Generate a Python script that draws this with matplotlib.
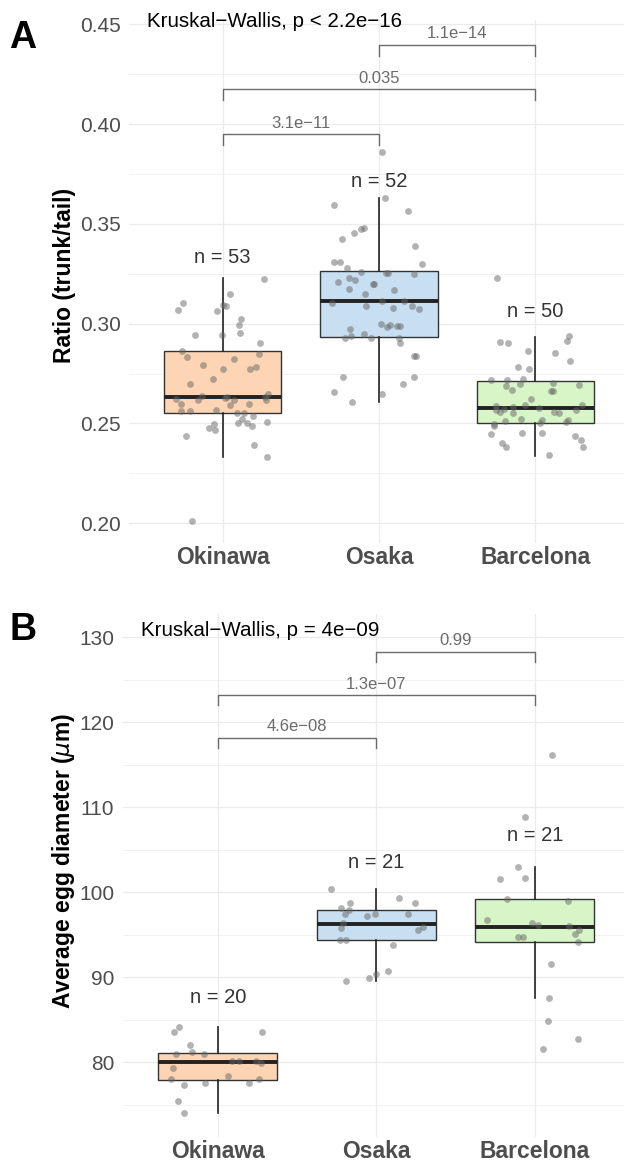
import matplotlib
matplotlib.use('Agg')
import matplotlib.pyplot as plt
from matplotlib.ticker import MultipleLocator, FormatStrFormatter

plt.rcParams['font.family'] = ['Liberation Sans', 'DejaVu Sans']

groups = ['Okinawa', 'Osaka', 'Barcelona']
box_colors = ['#FDD5B4', '#C7DFF1', '#D8F5C8']

# ---- panel A: trunk/tail ratio ----
ratio_okinawa = [0.3226, 0.3149, 0.3102, 0.3067, 0.3065, 0.3094, 0.3089, 0.3022, 0.2995, 0.2952,
                 0.2945, 0.2944, 0.2905, 0.2862, 0.2835, 0.2847, 0.2822, 0.2795, 0.2783, 0.2773,
                 0.2772, 0.2725, 0.2700, 0.2640, 0.2625, 0.2620, 0.2626, 0.2618, 0.2635, 0.2648,
                 0.2618, 0.2598, 0.2591, 0.2596, 0.2561, 0.2561, 0.2569, 0.2554, 0.2551, 0.2538,
                 0.2504, 0.2523, 0.2504, 0.2488, 0.2508, 0.2496, 0.2478, 0.2469, 0.2438, 0.2392,
                 0.2332, 0.2013, 0.2634]
jit_okinawa = [0.264, 0.047, -0.252, -0.286, -0.038, 0.002, 0.019, 0.117, 0.104, 0.111,
               -0.175, -0.004, 0.237, -0.260, -0.226, 0.230, 0.072, -0.126, 0.213, 0.173,
               0.000, -0.064, -0.211, -0.130, -0.299, -0.160, 0.013, 0.070, 0.269, 0.292,
               0.277, -0.269, 0.045, 0.168, -0.264, -0.207, -0.041, 0.090, 0.136, 0.196,
               0.100, 0.122, 0.154, 0.188, 0.281, -0.058, -0.090, -0.047, -0.232, 0.198,
               0.281, -0.194, 0.030]
ratio_osaka = [0.3860, 0.3632, 0.3596, 0.3566, 0.3480, 0.3476, 0.3456, 0.3426, 0.3391, 0.3311,
               0.3311, 0.3297, 0.3281, 0.3261, 0.3252, 0.3256, 0.3251, 0.3229, 0.3219, 0.3210,
               0.3197, 0.3175, 0.3167, 0.3150, 0.3102, 0.3112, 0.3112, 0.3090, 0.3080, 0.3087,
               0.3075, 0.2997, 0.2985, 0.2988, 0.2988, 0.2971, 0.2950, 0.2940, 0.2928, 0.2930,
               0.2930, 0.2903, 0.2838, 0.2838, 0.2733, 0.2733, 0.2700, 0.2656, 0.2648, 0.2609,
               0.3198, 0.2995]
jit_osaka = [0.019, 0.041, -0.290, 0.188, -0.098, -0.115, -0.160, -0.237, 0.232, -0.290,
             -0.249, 0.273, -0.205, -0.113, 0.047, 0.055, 0.222, -0.192, -0.155, -0.262,
             -0.038, -0.190, 0.098, -0.087, -0.299, 0.021, 0.162, -0.081, 0.090, 0.211,
             0.256, 0.013, 0.049, 0.115, 0.132, -0.183, -0.098, -0.177, -0.220, -0.049,
             0.126, 0.132, 0.222, 0.239, -0.230, 0.222, 0.155, -0.285, 0.020, -0.173,
             -0.030, 0.070]
ratio_barcelona = [0.2940, 0.2915, 0.2910, 0.2903, 0.2861, 0.2855, 0.2815, 0.2781, 0.2774, 0.2718,
                   0.2718, 0.2721, 0.2701, 0.2690, 0.2691, 0.2666, 0.2661, 0.2624, 0.2593, 0.2589,
                   0.2581, 0.2579, 0.2593, 0.2566, 0.2559, 0.2554, 0.2557, 0.2551, 0.2569, 0.2521,
                   0.2517, 0.2519, 0.2512, 0.2502, 0.2499, 0.2489, 0.2449, 0.2452, 0.2454, 0.2435,
                   0.2419, 0.2402, 0.2384, 0.2380, 0.2340, 0.3231, 0.2575, 0.2662, 0.2505, 0.2700]
jit_barcelona = [0.218, 0.201, -0.225, -0.174, -0.044, 0.127, 0.223, -0.108, -0.042, -0.281,
                 -0.178, -0.076, 0.116, -0.189, 0.280, -0.148, 0.112, -0.029, -0.063, -0.250,
                 -0.142, 0.022, 0.299, -0.250, -0.225, -0.144, 0.122, 0.154, 0.259, -0.091,
                 0.044, 0.208, -0.191, 0.031, -0.263, -0.266, -0.281, -0.086, 0.044, 0.254,
                 0.295, -0.214, -0.189, 0.304, 0.090, -0.242, -0.200, 0.100, 0.200, -0.100]
# whislo, q1, median, q3, whishi
ratio_box = [(0.2334, 0.2554, 0.2634, 0.2863, 0.3231),
             (0.2609, 0.2935, 0.3115, 0.3266, 0.3628),
             (0.2339, 0.2504, 0.2579, 0.2713, 0.2935)]
ratio_n = ['n = 53', 'n = 52', 'n = 50']
ratio_n_y = [0.3304, 0.3686, 0.3035]
ratio_brackets = [(1, 2, 0.3950, '3.1e\u221211'),
                  (1, 3, 0.4174, '0.035'),
                  (2, 3, 0.4397, '1.1e\u221214')]
ratio_kw = 'Kruskal\u2212Wallis, p < 2.2e\u221216'

# ---- panel B: egg diameter ----
egg_okinawa = [84.19, 83.57, 83.57, 82.0, 81.17, 80.98, 81.02, 80.19, 80.19, 80.19,
               79.96, 79.29, 78.39, 78.0, 78.0, 77.37, 77.6, 77.6, 75.41, 74.0]
jit_egg_okinawa = [-0.244, -0.273, 0.278, -0.175, -0.162, -0.261, -0.086, 0.088, 0.137, 0.242,
                   0.273, -0.280, 0.063, -0.297, 0.259, -0.212, -0.082, 0.196, -0.252, -0.212]
egg_osaka = [100.35, 99.37, 98.74, 98.74, 98.2, 97.88, 97.49, 97.49, 97.49, 97.18,
             96.43, 95.76, 95.92, 95.57, 94.35, 94.35, 93.76, 90.78, 90.35, 89.96, 89.57]
jit_egg_osaka = [-0.286, 0.143, 0.242, -0.164, -0.223, -0.170, -0.200, -0.011, 0.202, -0.061,
                 -0.210, -0.221, 0.294, 0.265, -0.229, -0.189, 0.103, 0.072, -0.002, -0.048, -0.189]
egg_barcelona = [108.89, 102.93, 101.56, 101.68, 99.17, 98.93, 96.74, 96.42, 96.19, 95.99,
                 95.56, 95.09, 94.78, 94.78, 94.15, 91.56, 87.56, 84.9, 81.56, 82.74, 116.15]
jit_egg_barcelona = [-0.059, -0.107, -0.219, -0.061, -0.177, 0.208, -0.299, -0.015, 0.021, 0.217,
                     0.280, 0.254, -0.107, -0.076, 0.273, 0.103, 0.088, 0.085, 0.053, 0.274, 0.110]
egg_box = [(74.0, 77.92, 80.07, 81.06, 84.1),
           (89.6, 94.39, 96.27, 97.92, 100.35),
           (87.53, 94.15, 95.95, 99.18, 103.0)]
egg_n = ['n = 20', 'n = 21', 'n = 21']
egg_n_y = [86.94, 102.82, 106.07]
egg_brackets = [(1, 2, 118.2, '4.6e\u221208'),
                (1, 3, 123.2, '1.3e\u221207'),
                (2, 3, 128.3, '0.99')]
egg_kw = 'Kruskal\u2212Wallis, p = 4e\u221209'


def draw_panel(ax, values, jitters, box, n_text, n_y, brackets, kw, kw_y,
               ylim, major, ylabel, ylabel_x, ylabel_y, tip):
    ax.set_xlim(0.4, 3.6)
    ax.set_ylim(*ylim)
    ax.yaxis.set_major_locator(MultipleLocator(major))
    ax.yaxis.set_minor_locator(MultipleLocator(major / 2))
    ax.grid(True, which='major', color='#EBEBEB', lw=0.9)
    ax.grid(True, which='minor', axis='y', color='#EBEBEB', lw=0.5)
    ax.set_axisbelow(True)
    for s in ax.spines.values():
        s.set_visible(False)

    stats = [dict(whislo=b[0], q1=b[1], med=b[2], q3=b[3], whishi=b[4], fliers=[]) for b in box]
    bp = ax.bxp(stats, positions=[1, 2, 3], widths=0.75, patch_artist=True,
                showfliers=False, showcaps=False,
                boxprops=dict(edgecolor='#333333', lw=1.0),
                whiskerprops=dict(color='#222222', lw=1.2),
                medianprops=dict(color='#222222', lw=2.8, solid_capstyle='butt'))
    for patch, c in zip(bp['boxes'], box_colors):
        patch.set_facecolor(c)
        patch.set_zorder(2)

    for i, (v, j) in enumerate(zip(values, jitters)):
        xs = [i + 1 + d for d in j]
        ax.scatter(xs, v, s=24, color='#666666', alpha=0.5, lw=0, zorder=3)

    for i, (t, y) in enumerate(zip(n_text, n_y)):
        ax.text(i + 1, y, t, ha='center', va='baseline', fontsize=14.5, color='#333333')

    for a, b, y, lab in brackets:
        ax.plot([a, a, b, b], [y - tip, y, y, y - tip], color='#6b6b6b', lw=1.0,
                clip_on=False, zorder=4)
        ax.annotate(lab, ((a + b) / 2, y), xytext=(0, 2.5), textcoords='offset points',
                    ha='center', va='bottom', fontsize=12, color='#6b6b6b')

    ax.text(0.516, kw_y, kw, ha='left', va='baseline', fontsize=14.8, color='black')

    ax.set_xticks([1, 2, 3])
    ax.set_xticklabels(groups, fontsize=16.5, fontweight='bold', color='#4D4D4D')
    ax.tick_params(axis='both', which='both', length=0)
    ax.tick_params(axis='x', pad=2)
    ax.tick_params(axis='y', labelsize=15, labelcolor='#4D4D4D', pad=6)
    ax.set_ylabel(ylabel, fontsize=16.5, fontweight='bold', color='black')
    ax.yaxis.label.set(ha='center', va='center')
    ax.yaxis.set_label_coords(ylabel_x, ylabel_y)


fig = plt.figure(figsize=(6.24, 11.63), dpi=100)
axA = fig.add_axes([0.2066, 0.5331, 0.8014, 0.4497])
axB = fig.add_axes([0.1965, 0.02236, 0.813, 0.4497])

draw_panel(axA, [ratio_okinawa, ratio_osaka, ratio_barcelona],
           [jit_okinawa, jit_osaka, jit_barcelona], ratio_box, ratio_n, ratio_n_y,
           ratio_brackets, ratio_kw, 0.4487, (0.1901, 0.4522), 0.05,
           'Ratio (trunk/tail)', -0.128, 0.512, 0.0055)
axA.yaxis.set_major_formatter(FormatStrFormatter('%.2f'))

draw_panel(axB, [egg_okinawa, egg_osaka, egg_barcelona],
           [jit_egg_okinawa, jit_egg_osaka, jit_egg_barcelona], egg_box, egg_n, egg_n_y,
           egg_brackets, egg_kw, 130.15, (71.21, 132.74), 10,
           r'Average egg diameter ($\mu$m)', -0.116, 0.528, 1.2)

fig.text(0.0144, 0.9673, 'A', fontsize=27, fontweight='bold', va='center', ha='left')
fig.text(0.0160, 0.4583, 'B', fontsize=27, fontweight='bold', va='center', ha='left')

fig.savefig('out.png', dpi=100)
